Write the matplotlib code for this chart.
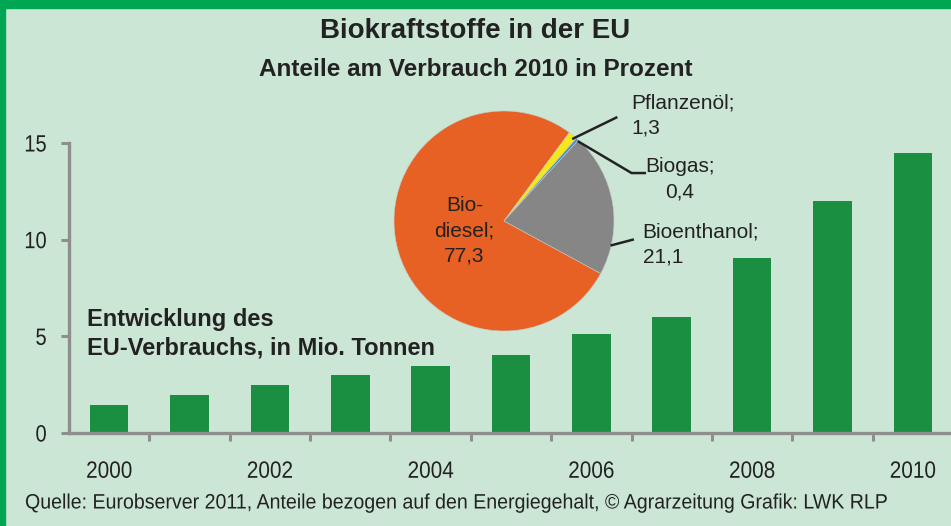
import matplotlib.pyplot as plt
import matplotlib as mpl
from matplotlib.patches import Rectangle
from matplotlib.patheffects import AbstractPathEffect
from matplotlib.transforms import Affine2D
import numpy as np

# data
years = [2000, 2001, 2002, 2003, 2004, 2005, 2006, 2007, 2008, 2009, 2010]
consumption = [1.45, 1.97, 2.48, 2.99, 3.49, 4.02, 5.1, 6.0, 9.05, 12.0, 14.5]

fuels = ["Biodiesel", "Pflanzenöl", "Biogas", "Bioenthanol"]
shares = [77.3, 1.3, 0.4, 21.1]
share_labels = ["77,3", "1,3", "0,4", "21,1"]
pie_colors = ["#E86124", "#F4E915", "#3A8FD4", "#868686"]

bg = "#CCE6D5"
frame_green = "#00A651"
bar_green = "#1A8F42"
axis_grey = "#8E8E8E"
txt = "#222222"

font = ["Liberation Sans", "DejaVu Sans"]


class Narrow(AbstractPathEffect):
    # squeeze glyphs horizontally (no condensed font installed)
    def __init__(self, sx=0.88, anchor="left"):
        super().__init__()
        self.sx = sx
        self.anchor = anchor

    def draw_path(self, renderer, gc, tpath, affine, rgbFace=None):
        ext = tpath.get_extents()
        if self.anchor == "center":
            cx = (ext.x0 + ext.x1) / 2
        elif self.anchor == "right":
            cx = ext.x1
        else:
            cx = 0
        t = Affine2D().translate(-cx, 0).scale(self.sx, 1).translate(cx, 0) + affine
        renderer.draw_path(gc, tpath, t, rgbFace)


fig = plt.figure(figsize=(9.51, 5.26), dpi=100, facecolor=bg)

# green frame (top band + left line)
fig.add_artist(Rectangle((0, 1 - 8 / 526), 1, 8 / 526, transform=fig.transFigure,
                         color=frame_green, zorder=0))
fig.add_artist(Rectangle((0, 0), 5 / 951, 1, transform=fig.transFigure,
                         color=frame_green, zorder=0))

# bar chart
ax = fig.add_axes([69 / 951, 93 / 526, 884 / 951, 290 / 526])
ax.patch.set_alpha(0)
x = np.arange(len(years))
ax.bar(x, consumption, width=0.48, color=bar_green, zorder=2)
ax.set_xlim(-0.5, len(years) - 0.5)
ax.set_ylim(0, 15)
ax.set_yticks([0, 5, 10, 15])
ax.set_yticklabels(["0", "5", "10", "15"], family=font, fontsize=17, color=txt,
                   path_effects=[Narrow(0.85, "right")])
ax.set_xticks(x)
ax.set_xticklabels([str(y) if y % 2 == 0 else "" for y in years],
                   family=font, fontsize=17, color=txt,
                   path_effects=[Narrow(0.88, "center")])
ax.set_xticks(x[:-1] + 0.5, minor=True)
ax.tick_params(axis="x", which="major", length=0, pad=20)
ax.tick_params(axis="x", which="minor", length=6, width=2.2, color=axis_grey)
ax.tick_params(axis="y", length=6, width=2.2, color=axis_grey, pad=10)
for s in ["top", "right"]:
    ax.spines[s].set_visible(False)
for s in ["left", "bottom"]:
    ax.spines[s].set_color(axis_grey)
    ax.spines[s].set_linewidth(2.4)

fig.text(87 / 951, 1 - 334 / 526, "Entwicklung des\nEU-Verbrauchs, in Mio. Tonnen",
         family=font, fontweight="bold", fontsize=17, color=txt,
         ha="left", va="center", linespacing=1.3)

# pie chart
pax = fig.add_axes([(504 - 110) / 951, (526 - 221 - 110) / 526, 220 / 951, 220 / 526])
wedges, _ = pax.pie(shares, colors=pie_colors, startangle=-28.5, counterclock=False,
                    wedgeprops=dict(edgecolor="#c8c8c8", linewidth=0.4))
pax.set_xlim(-1, 1)
pax.set_ylim(-1, 1)

lbl = dict(family=font, fontsize=15, color=txt, linespacing=1.4)
pax.text(-0.36, -0.09, "Bio-\ndiesel;\n" + share_labels[0], ha="center", va="center",
         multialignment="center", **lbl)
pax.plot([0.63, 1.02], [0.75, 0.94], color=txt, lw=1.8, clip_on=False)
pax.text(1.16, 0.96, fuels[1] + ";\n" + share_labels[1], ha="left", va="center", **lbl)
pax.plot([0.68, 1.16, 1.28], [0.72, 0.436, 0.436], color=txt, lw=1.8, clip_on=False)
pax.text(1.60, 0.38, fuels[2] + ";\n" + share_labels[2], ha="center", va="center",
         multialignment="center", **lbl)
pax.plot([0.98, 1.17], [-0.22, -0.17], color=txt, lw=1.8, clip_on=False)
pax.text(1.26, -0.21, fuels[3] + ";\n" + share_labels[3], ha="left", va="center", **lbl)

# titles and source
fig.text(0.5, 1 - 31 / 526, "Biokraftstoffe in der EU", family=font, fontweight="bold",
         fontsize=20, color=txt, ha="center", va="center")
fig.text(0.5, 1 - 70 / 526, "Anteile am Verbrauch 2010 in Prozent", family=font,
         fontweight="bold", fontsize=17.5, color=txt, ha="center", va="center")
fig.text(25 / 951, 1 - 503 / 526,
         "Quelle: Eurobserver 2011, Anteile bezogen auf den Energiegehalt, \u00a9 Agrarzeitung Grafik: LWK RLP",
         family=font, fontsize=15, color=txt, ha="left", va="center",
         path_effects=[Narrow(0.94, "left")])

fig.savefig("out.png", dpi=100, facecolor=bg)
